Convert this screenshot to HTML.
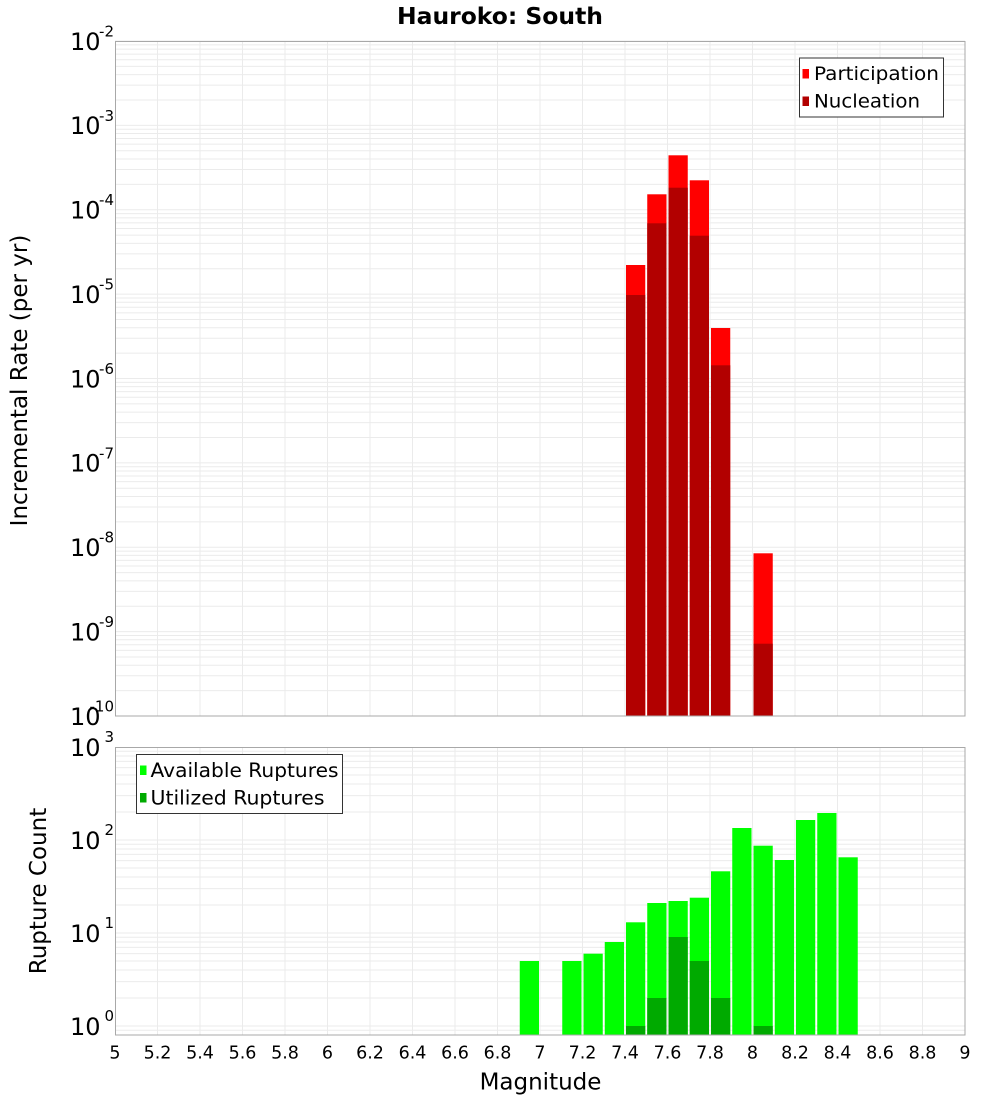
<!DOCTYPE html>
<html><head><meta charset="utf-8"><style>
html,body{margin:0;padding:0;background:#fff;}
svg{display:block;font-family:"DejaVu Sans","Liberation Sans",sans-serif;}
</style></head><body>
<svg width="1000" height="1100" viewBox="0 0 1000 1100" xmlns="http://www.w3.org/2000/svg">
<defs>
<g id="vg">
<line x1="157.5" x2="157.5"/><line x1="200" x2="200"/><line x1="242.5" x2="242.5"/><line x1="285" x2="285"/>
<line x1="327.5" x2="327.5"/><line x1="370" x2="370"/><line x1="412.5" x2="412.5"/><line x1="455" x2="455"/>
<line x1="497.5" x2="497.5"/><line x1="540" x2="540"/><line x1="582.5" x2="582.5"/><line x1="625" x2="625"/>
<line x1="667.5" x2="667.5"/><line x1="710" x2="710"/><line x1="752.5" x2="752.5"/><line x1="795" x2="795"/>
<line x1="837.5" x2="837.5"/><line x1="880" x2="880"/><line x1="922.5" x2="922.5"/>
</g>
<g id="dt">
<line x1="115" x2="965" y1="0" y2="0"/><line x1="115" x2="965" y1="3.861" y2="3.861"/><line x1="115" x2="965" y1="8.177" y2="8.177"/>
<line x1="115" x2="965" y1="13.07" y2="13.07"/><line x1="115" x2="965" y1="18.719" y2="18.719"/><line x1="115" x2="965" y1="25.399" y2="25.399"/>
<line x1="115" x2="965" y1="33.576" y2="33.576"/><line x1="115" x2="965" y1="44.118" y2="44.118"/><line x1="115" x2="965" y1="58.975" y2="58.975"/>
</g>
<g id="db">
<line x1="115" x2="965" y1="0" y2="0"/><line x1="115" x2="965" y1="4.256" y2="4.256"/><line x1="115" x2="965" y1="9.013" y2="9.013"/>
<line x1="115" x2="965" y1="14.406" y2="14.406"/><line x1="115" x2="965" y1="20.632" y2="20.632"/><line x1="115" x2="965" y1="27.996" y2="27.996"/>
<line x1="115" x2="965" y1="37.008" y2="37.008"/><line x1="115" x2="965" y1="48.628" y2="48.628"/><line x1="115" x2="965" y1="65.004" y2="65.004"/>
</g>
<clipPath id="cb"><rect x="115" y="747" width="850" height="288"/></clipPath>
</defs>

<!-- title -->
<text x="500" y="24" font-size="23" font-weight="bold" text-anchor="middle" textLength="206" lengthAdjust="spacingAndGlyphs">Hauroko: South</text>

<!-- TOP PLOT -->
<g stroke="#ebebeb" stroke-width="1">
<g transform="translate(0,41)"><use href="#dt"/></g>
<g transform="translate(0,125.375)"><use href="#dt"/></g>
<g transform="translate(0,209.75)"><use href="#dt"/></g>
<g transform="translate(0,294.125)"><use href="#dt"/></g>
<g transform="translate(0,378.5)"><use href="#dt"/></g>
<g transform="translate(0,462.875)"><use href="#dt"/></g>
<g transform="translate(0,547.25)"><use href="#dt"/></g>
<g transform="translate(0,631.625)"><use href="#dt"/></g>
</g>
<g stroke="#ebebeb" stroke-width="1"><g transform="translate(0,0)"><use href="#vg" y="0"/></g></g>
<g stroke="#ebebeb" stroke-width="1">
<line x1="157.5" x2="157.5" y1="41" y2="716"/><line x1="200" x2="200" y1="41" y2="716"/><line x1="242.5" x2="242.5" y1="41" y2="716"/><line x1="285" x2="285" y1="41" y2="716"/>
<line x1="327.5" x2="327.5" y1="41" y2="716"/><line x1="370" x2="370" y1="41" y2="716"/><line x1="412.5" x2="412.5" y1="41" y2="716"/><line x1="455" x2="455" y1="41" y2="716"/>
<line x1="497.5" x2="497.5" y1="41" y2="716"/><line x1="540" x2="540" y1="41" y2="716"/><line x1="582.5" x2="582.5" y1="41" y2="716"/><line x1="625" x2="625" y1="41" y2="716"/>
<line x1="667.5" x2="667.5" y1="41" y2="716"/><line x1="710" x2="710" y1="41" y2="716"/><line x1="752.5" x2="752.5" y1="41" y2="716"/><line x1="795" x2="795" y1="41" y2="716"/>
<line x1="837.5" x2="837.5" y1="41" y2="716"/><line x1="880" x2="880" y1="41" y2="716"/><line x1="922.5" x2="922.5" y1="41" y2="716"/>
</g>

<!-- top bars: participation -->
<g fill="#ff0000">
<rect x="626" y="265" width="19.25" height="451"/>
<rect x="647.25" y="194.3" width="19.25" height="521.7"/>
<rect x="668.5" y="155.3" width="19.25" height="560.7"/>
<rect x="689.75" y="180.3" width="19.25" height="535.7"/>
<rect x="711" y="328" width="19.25" height="388"/>
<rect x="753.5" y="553.3" width="19.25" height="162.7"/>
</g>
<g fill="#b20000">
<rect x="626" y="295" width="19.25" height="421"/>
<rect x="647.25" y="223.3" width="19.25" height="492.7"/>
<rect x="668.5" y="187.7" width="19.25" height="528.3"/>
<rect x="689.75" y="235.7" width="19.25" height="480.3"/>
<rect x="711" y="365.3" width="19.25" height="350.7"/>
<rect x="753.5" y="643.7" width="19.25" height="72.3"/>
</g>
<rect x="115.5" y="41.5" width="849.5" height="674.5" fill="none" stroke="#a8a8a8" stroke-width="1"/>

<!-- top legend -->
<rect x="799.5" y="58" width="144" height="59" fill="#fff" stroke="#333" stroke-width="1"/>
<rect x="802.5" y="69" width="6.5" height="9.5" fill="#ff0000"/>
<rect x="802.5" y="96.5" width="6.5" height="9.5" fill="#b20000"/>
<text x="814" y="80" font-size="19" textLength="125" lengthAdjust="spacingAndGlyphs">Participation</text>
<text x="814" y="107.5" font-size="19" textLength="106" lengthAdjust="spacingAndGlyphs">Nucleation</text>

<!-- top y labels -->
<g font-size="24" text-anchor="end">
<text x="100.5" y="49.8">10</text>
<text x="100.5" y="134.2">10</text>
<text x="100.5" y="218.5">10</text>
<text x="100.5" y="302.9">10</text>
<text x="100.5" y="387.3">10</text>
<text x="100.5" y="471.7">10</text>
<text x="100.5" y="556">10</text>
<text x="100.5" y="640.4">10</text>
<text x="100.5" y="724.8">10</text>
</g>
<g font-size="15" text-anchor="end">
<text x="114" y="36.5">-2</text>
<text x="114" y="120.9">-3</text>
<text x="114" y="205.2">-4</text>
<text x="114" y="289.6">-5</text>
<text x="114" y="374">-6</text>
<text x="114" y="458.4">-7</text>
<text x="114" y="542.7">-8</text>
<text x="114" y="627.1">-9</text>
<text x="114" y="711.5">-10</text>
</g>
<text transform="translate(27,380.5) rotate(-90)" font-size="23" text-anchor="middle">Incremental Rate (per yr)</text>

<!-- BOTTOM PLOT -->
<g stroke="#ebebeb" stroke-width="1" clip-path="url(#cb)">
<g transform="translate(0,747)"><use href="#db"/></g>
<g transform="translate(0,840)"><use href="#db"/></g>
<g transform="translate(0,933)"><use href="#db"/></g>
<g transform="translate(0,1026)"><use href="#db"/></g>
<line x1="157.5" x2="157.5" y1="747" y2="1035"/><line x1="200" x2="200" y1="747" y2="1035"/><line x1="242.5" x2="242.5" y1="747" y2="1035"/><line x1="285" x2="285" y1="747" y2="1035"/>
<line x1="327.5" x2="327.5" y1="747" y2="1035"/><line x1="370" x2="370" y1="747" y2="1035"/><line x1="412.5" x2="412.5" y1="747" y2="1035"/><line x1="455" x2="455" y1="747" y2="1035"/>
<line x1="497.5" x2="497.5" y1="747" y2="1035"/><line x1="540" x2="540" y1="747" y2="1035"/><line x1="582.5" x2="582.5" y1="747" y2="1035"/><line x1="625" x2="625" y1="747" y2="1035"/>
<line x1="667.5" x2="667.5" y1="747" y2="1035"/><line x1="710" x2="710" y1="747" y2="1035"/><line x1="752.5" x2="752.5" y1="747" y2="1035"/><line x1="795" x2="795" y1="747" y2="1035"/>
<line x1="837.5" x2="837.5" y1="747" y2="1035"/><line x1="880" x2="880" y1="747" y2="1035"/><line x1="922.5" x2="922.5" y1="747" y2="1035"/>
</g>

<g fill="#00ff00">
<rect x="519.75" y="961" width="19.25" height="74"/>
<rect x="562.25" y="961" width="19.25" height="74"/>
<rect x="583.5" y="953.7" width="19.25" height="81.3"/>
<rect x="604.75" y="942" width="19.25" height="93"/>
<rect x="626" y="922.3" width="19.25" height="112.7"/>
<rect x="647.25" y="903" width="19.25" height="132"/>
<rect x="668.5" y="901" width="19.25" height="134"/>
<rect x="689.75" y="897.7" width="19.25" height="137.3"/>
<rect x="711" y="871.3" width="19.25" height="163.7"/>
<rect x="732.25" y="828" width="19.25" height="207"/>
<rect x="753.5" y="845.7" width="19.25" height="189.3"/>
<rect x="774.75" y="860" width="19.25" height="175"/>
<rect x="796" y="820" width="19.25" height="215"/>
<rect x="817.25" y="813" width="19.25" height="222"/>
<rect x="838.5" y="857.3" width="19.25" height="177.7"/>
</g>
<g fill="#00aa00">
<rect x="626" y="1026" width="19.25" height="9"/>
<rect x="647.25" y="998" width="19.25" height="37"/>
<rect x="668.5" y="937" width="19.25" height="98"/>
<rect x="689.75" y="961" width="19.25" height="74"/>
<rect x="711" y="998" width="19.25" height="37"/>
<rect x="753.5" y="1026" width="19.25" height="9"/>
</g>
<rect x="115.5" y="747.5" width="849.5" height="287.5" fill="none" stroke="#a8a8a8" stroke-width="1"/>

<!-- bottom legend -->
<rect x="136.5" y="754.5" width="206" height="59" fill="#fff" stroke="#333" stroke-width="1"/>
<rect x="140" y="765.5" width="6.5" height="9.5" fill="#00ff00"/>
<rect x="140" y="793" width="6.5" height="9.5" fill="#00aa00"/>
<text x="150.5" y="777" font-size="19.5" textLength="188" lengthAdjust="spacingAndGlyphs">Available Ruptures</text>
<text x="150.5" y="804.5" font-size="19.5" textLength="174" lengthAdjust="spacingAndGlyphs">Utilized Ruptures</text>

<!-- bottom y labels -->
<g font-size="24" text-anchor="end">
<text x="100.5" y="755.8">10</text>
<text x="100.5" y="848.8">10</text>
<text x="100.5" y="941.8">10</text>
<text x="100.5" y="1034.8">10</text>
</g>
<g font-size="15" text-anchor="end">
<text x="114" y="742">3</text>
<text x="114" y="835">2</text>
<text x="114" y="928">1</text>
<text x="114" y="1021">0</text>
</g>
<text transform="translate(46,891) rotate(-90)" font-size="23" text-anchor="middle">Rupture Count</text>

<!-- x tick labels -->
<g font-size="17.5" text-anchor="middle">
<text x="115" y="1058.5">5</text><text x="157.5" y="1058.5">5.2</text><text x="200" y="1058.5">5.4</text>
<text x="242.5" y="1058.5">5.6</text><text x="285" y="1058.5">5.8</text><text x="327.5" y="1058.5">6</text>
<text x="370" y="1058.5">6.2</text><text x="412.5" y="1058.5">6.4</text><text x="455" y="1058.5">6.6</text>
<text x="497.5" y="1058.5">6.8</text><text x="540" y="1058.5">7</text><text x="582.5" y="1058.5">7.2</text>
<text x="625" y="1058.5">7.4</text><text x="667.5" y="1058.5">7.6</text><text x="710" y="1058.5">7.8</text>
<text x="752.5" y="1058.5">8</text><text x="795" y="1058.5">8.2</text><text x="837.5" y="1058.5">8.4</text>
<text x="880" y="1058.5">8.6</text><text x="922.5" y="1058.5">8.8</text><text x="965" y="1058.5">9</text>
</g>
<text x="540.5" y="1089.3" font-size="23" text-anchor="middle">Magnitude</text>
</svg>
</body></html>
